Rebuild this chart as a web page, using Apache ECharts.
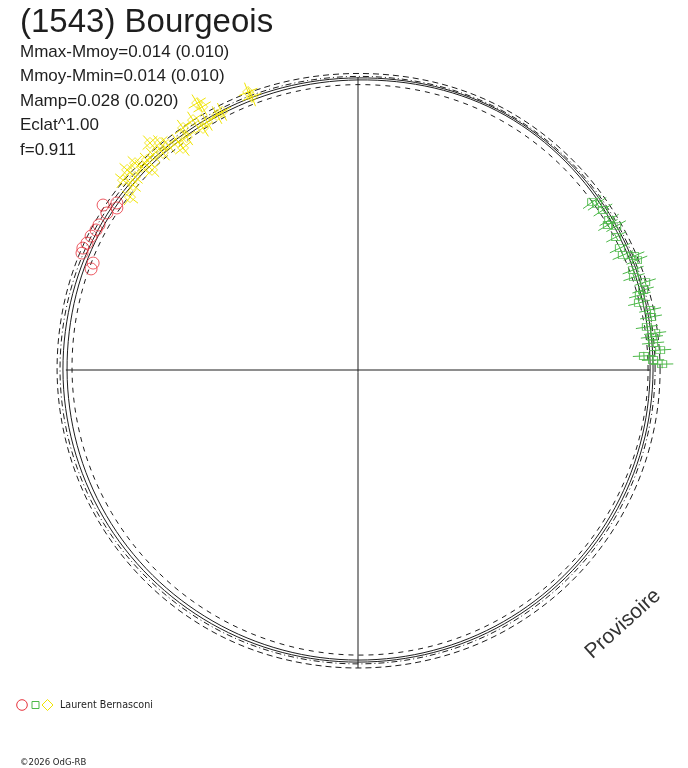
<!DOCTYPE html>
<html>
<head>
<meta charset="utf-8">
<script src="https://cdn.jsdelivr.net/npm/echarts@6/dist/echarts.min.js"></script>
<style>
  html, body { margin: 0; padding: 0; background: #fff; }
  #chart { width: 688px; height: 768px; }
</style>
</head>
<body>
<div id="chart"></div>
<script>
// model curves: radius (mean = 1) every 30 deg of phase
const curveAngles = [0, 30, 60, 90, 120, 150, 180, 210, 240, 270, 300, 330]
const curveOuter   = [1.031, 1.027, 1.022, 1.012, 1.020, 1.030, 1.027, 1.025, 1.022, 1.017, 1.022, 1.028]
const curveDashDot = [1.014, 1.016, 1.013, 1.002, 1.008, 1.018, 1.017, 1.014, 1.008, 1.003, 1.008, 1.012]
const curveSolidA  = [1.007, 1.010, 1.009, 0.997, 1.000, 1.008, 1.007, 1.004, 1.000, 0.997, 1.000, 1.004]
const curveSolidB  = [0.997, 1.002, 1.004, 0.990, 0.990, 0.998, 0.993, 0.992, 0.990, 0.990, 0.992, 0.995]
const curveInner   = [0.990, 0.985, 0.982, 0.974, 0.976, 0.982, 0.976, 0.972, 0.970, 0.973, 0.978, 0.984]

// observations (x, y in the same units)
const redX = [-0.870, -0.823, -0.823, -0.857, -0.884, -0.894, -0.911, -0.925, -0.939, -0.942, -0.904, -0.911]
const redY = [0.563, 0.570, 0.553, 0.536, 0.495, 0.478, 0.457, 0.433, 0.416, 0.399, 0.365, 0.345]

const greenX = [0.799, 0.816, 0.836, 0.857, 0.853, 0.881, 0.881, 0.894, 0.904, 0.942, 0.952, 0.939, 0.942,
  0.980, 0.973, 0.962, 0.959, 0.997, 1.000, 0.986, 1.014, 1.003, 1.007, 1.031, 0.976, 1.007, 1.038]
const greenY = [0.573, 0.567, 0.546, 0.512, 0.495, 0.491, 0.454, 0.416, 0.392, 0.389, 0.375, 0.341, 0.317,
  0.300, 0.273, 0.256, 0.229, 0.205, 0.181, 0.147, 0.126, 0.113, 0.092, 0.068, 0.048, 0.034, 0.020]

const yellowX = [-0.375, -0.362, -0.464, -0.481, -0.532, -0.549, -0.515, -0.563, -0.529, -0.597, -0.584, -0.614,
  -0.597, -0.648, -0.676, -0.666, -0.710, -0.700, -0.720, -0.737, -0.761, -0.703, -0.761, -0.788, -0.802, -0.768, -0.778]
const yellowY = [0.949, 0.932, 0.881, 0.870, 0.898, 0.911, 0.846, 0.853, 0.826, 0.826, 0.795, 0.778,
  0.758, 0.768, 0.775, 0.741, 0.775, 0.734, 0.717, 0.693, 0.706, 0.683, 0.659, 0.683, 0.648, 0.631, 0.590]

const axisH = [[-0.997, 0], [0.997, 0]]
const axisV = [[0, 1.0], [0, -1.017]]

const statLines = ['Mmax-Mmoy=0.014 (0.010)', 'Mmoy-Mmin=0.014 (0.010)', 'Mamp=0.028 (0.020)', 'Eclat^1.00', 'f=0.911']

const red = '#e8323c', green = '#4cb848', yellow = '#f0e400', ink = '#1e1e1e'
const fontFam = '"Liberation Sans", Arial, sans-serif'
const smallFam = '"DejaVu Sans", sans-serif'

let chart = echarts.init(document.getElementById('chart'), null, {renderer: 'canvas'})

function curveSeries(radii, dash){
  return {
    type: 'custom',
    silent: true,
    data: [[0, 0]],
    z: 2,
    renderItem: (params, api) => ({
      type: 'polygon',
      shape: {
        points: curveAngles.map((a, i) => {
          let t = a * Math.PI / 180
          return api.coord([radii[i] * Math.cos(t), radii[i] * Math.sin(t)])
        }),
        smooth: 0.35
      },
      style: {fill: 'none', stroke: ink, lineWidth: 1, lineDash: dash}
    })
  }
}

// radial (magnitude) and tangential (phase) error bars
function errorSeries(xs, ys, eRad, eTan, color){
  return {
    type: 'custom',
    silent: true,
    z: 3,
    data: xs.map((x, i) => [x, ys[i]]),
    renderItem: (params, api) => {
      let x = api.value(0), y = api.value(1)
      let r = Math.hypot(x, y), ux = x / r, uy = y / r
      let a = api.coord([x - ux * eRad, y - uy * eRad]), b = api.coord([x + ux * eRad, y + uy * eRad])
      let c = api.coord([x + uy * eTan, y - ux * eTan]), d = api.coord([x - uy * eTan, y + ux * eTan])
      let st = {stroke: color, lineWidth: 1}
      return {type: 'group', children: [
        {type: 'line', shape: {x1: a[0], y1: a[1], x2: b[0], y2: b[1]}, style: st},
        {type: 'line', shape: {x1: c[0], y1: c[1], x2: d[0], y2: d[1]}, style: st}
      ]}
    }
  }
}

function pointSeries(xs, ys, symbol, size, color){
  return {
    type: 'scatter',
    silent: true,
    z: 4,
    symbol: symbol,
    symbolSize: size,
    itemStyle: {color: 'transparent', borderColor: color, borderWidth: 1},
    data: xs.map((x, i) => [x, ys[i]])
  }
}

let axisLine = d => ({
  type: 'line', silent: true, symbol: 'none', z: 1,
  lineStyle: {color: ink, width: 1}, data: d
})

let graphics = [
  {type: 'text', x: 20, y: 23, style: {text: '(1543) Bourgeois', font: '33px ' + fontFam, fill: ink, verticalAlign: 'middle'}},
  {type: 'text', rotation: 42 * Math.PI / 180, x: 623, y: 624,
    style: {text: 'Provisoire', font: '21px ' + fontFam, fill: '#333', align: 'center', verticalAlign: 'middle'}},
  {type: 'circle', shape: {cx: 22, cy: 705, r: 5.3}, style: {fill: 'none', stroke: red}},
  {type: 'rect', shape: {x: 32, y: 701.5, width: 7, height: 7}, style: {fill: 'none', stroke: green}},
  {type: 'polygon', shape: {points: [[47.5, 699.5], [53, 705], [47.5, 710.5], [42, 705]]}, style: {fill: 'none', stroke: yellow}},
  {type: 'text', x: 60, y: 705, style: {text: 'Laurent Bernasconi', font: '9.6px ' + smallFam, fill: ink, verticalAlign: 'middle'}},
  {type: 'text', x: 20, y: 763, style: {text: '©2026 OdG-RB', font: '8.5px ' + smallFam, fill: ink, verticalAlign: 'middle'}}
]
statLines.forEach((s, i) => {
  graphics.push({type: 'text', x: 20, y: 52 + i * 24.6,
    style: {text: s, font: '17px ' + fontFam, fill: ink, verticalAlign: 'middle'}})
})

let option = {
  animation: false,
  backgroundColor: '#fff',
  grid: {left: 6.4, top: 18.4, width: 673.9, height: 703.2, show: false},
  xAxis: {type: 'value', min: -1.2, max: 1.1, show: false},
  yAxis: {type: 'value', min: -1.2, max: 1.2, show: false},
  graphic: graphics,
  series: [
    axisLine(axisH),
    axisLine(axisV),
    curveSeries(curveOuter, [6, 4]),
    curveSeries(curveDashDot, [6, 3, 1, 3]),
    curveSeries(curveSolidA, null),
    curveSeries(curveSolidB, null),
    curveSeries(curveInner, [5, 5]),
    errorSeries(greenX, greenY, 0.038, 0.014, green),
    errorSeries(yellowX, yellowY, 0.034, 0.034, yellow),
    pointSeries(redX, redY, 'circle', 12, red),
    pointSeries(greenX, greenY, 'rect', [9, 7], green),
    pointSeries(yellowX, yellowY, 'diamond', [11, 11], yellow)
  ]
}
chart.setOption(option)
</script>
</body>
</html>
